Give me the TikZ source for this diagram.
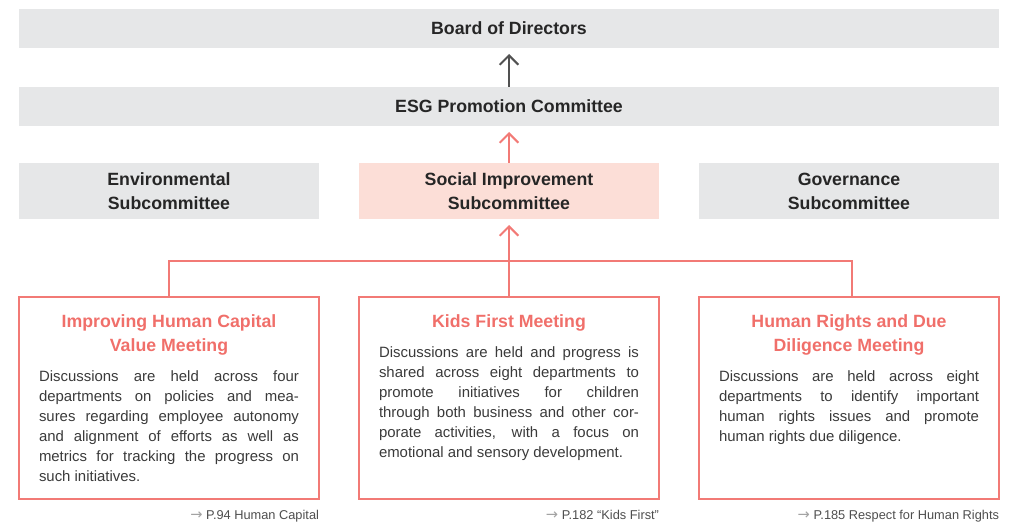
\documentclass[tikz,border=0pt]{standalone}
\usepackage{fontspec}
\setmainfont{Liberation Sans}
\newfontfamily\arrowfont{DejaVu Sans}
\usetikzlibrary{arrows.meta,positioning,calc}
\definecolor{boxgray}{HTML}{E6E7E8}
\definecolor{boxpink}{HTML}{FCDED7}
\definecolor{linered}{HTML}{F27A76}
\definecolor{titlered}{HTML}{F06F6A}
\definecolor{inkdark}{HTML}{262626}
\definecolor{inkbody}{HTML}{3A3A3A}
\definecolor{inkgray}{HTML}{A3A3A3}
\def\wideboxwidth{735pt}
\def\boxwidth{225pt}
\def\colsep{30pt}
\tolerance=9999
\hbadness=10000
\hyphenpenalty=10000

\begin{document}
\begin{tikzpicture}[x=0.75pt,y=-0.75pt,
    every node/.style={outer sep=0pt},
    node distance=29.25pt and \colsep,
    myarrow/.style={-{Straight Barb[length=7pt,width=14pt]},line width=1.5pt,shorten >=4.5pt},
    link/.style={draw=linered,line width=1.5pt}]
    \tikzstyle{level}=[fill=boxgray,text=inkdark,minimum height=29.25pt,inner sep=0pt,
        align=center,font=\fontsize{13.3}{18}\selectfont\bfseries]
    \tikzstyle{wide level}=[level,minimum width=\wideboxwidth,text depth=-3pt]
    \tikzstyle{sub level}=[level,minimum width=\boxwidth,minimum height=42pt,text depth=-4.5pt]
    \tikzstyle{meeting}=[draw=linered,line width=1.5pt,minimum width=\boxwidth,minimum height=151.5pt,inner sep=0pt]
    \tikzstyle{mtitle}=[text=titlered,align=center,inner sep=0pt,font=\fontsize{13.3}{18}\selectfont\bfseries]
    \tikzstyle{mbody}=[text=inkbody,text width=195pt,align=justify,inner sep=0pt,
        font=\fontsize{11.2}{15}\selectfont]
    \tikzstyle{reftext}=[text=inkbody!90,inner sep=0pt,font=\fontsize{9.6}{11}\selectfont]

    \useasboundingbox (0,0) rectangle (1022,531);

    % Draw the committee levels
    \node[wide level] (board) at (509,28.5) {Board of Directors};
    \node[wide level, below=of board] (esg) {ESG Promotion Committee};

    % Draw the subcommittees
    \node[sub level, fill=boxpink, below=27.75pt of esg] (social) {Social Improvement\\Subcommittee};
    \node[sub level, left=of social] (env) {Environmental\\Subcommittee};
    \node[sub level, right=of social] (gov) {Governance\\Subcommittee};

    % Draw the meeting boxes
    \node[meeting, below=58.5pt of social] (kfm) {};
    \node[meeting, left=of kfm] (hcm) {};
    \node[meeting, right=of kfm] (hrm) {};

    % Titles and texts of the meetings
    \node[mtitle, below=13.5pt of hcm.north] (hcm-t) {Improving Human Capital\\Value Meeting};
    \node[mtitle, below=13.5pt of kfm.north] (kfm-t) {Kids First Meeting};
    \node[mtitle, below=13.5pt of hrm.north] (hrm-t) {Human Rights and Due\\Diligence Meeting};

    \node[mbody, below=11pt of hcm-t] (hcm-b) {Discussions are held across four\linebreak
        departments on policies and mea-\linebreak sures regarding employee autonomy\linebreak
        and alignment of efforts as well as\linebreak metrics for tracking the progress on\linebreak
        such initiatives.};
    \node[mbody, below=11pt of kfm-t] (kfm-b) {Discussions are held and progress is\linebreak
        shared across eight departments to\linebreak promote initiatives for children\linebreak
        through both business and other cor-\linebreak porate activities, with a focus on\linebreak
        emotional and sensory development.};
    \node[mbody, below=11pt of hrm-t] (hrm-b) {Discussions are held across eight\linebreak
        departments to identify important\linebreak human rights issues and promote\linebreak
        human rights due diligence.};

    % Page references
    \node[reftext, below left=8.5pt and 0pt of hcm.south east] (hcm-r) {{\arrowfont\fontsize{11}{11}\selectfont\color{inkgray}→} P.94 Human Capital};
    \node[reftext, below left=8.5pt and 0pt of kfm.south east] (kfm-r) {{\arrowfont\fontsize{11}{11}\selectfont\color{inkgray}→} P.182 “Kids First”};
    \node[reftext, below left=8.5pt and 0pt of hrm.south east] (hrm-r) {{\arrowfont\fontsize{11}{11}\selectfont\color{inkgray}→} P.185 Respect for Human Rights};

    % Connect the levels
    \draw[myarrow, draw=inkdark!80] (esg) -- (board);
    \draw[myarrow, draw=linered] (social) -- (esg);

    \coordinate (bar) at ($(social.south)!0.54!(kfm.north)$);
    \draw[link] (hcm.north) |- (bar) -| ([xshift=2.5pt]hrm.north);
    \draw[link, myarrow] (kfm.north) -- (social.south);
\end{tikzpicture}
\end{document}
